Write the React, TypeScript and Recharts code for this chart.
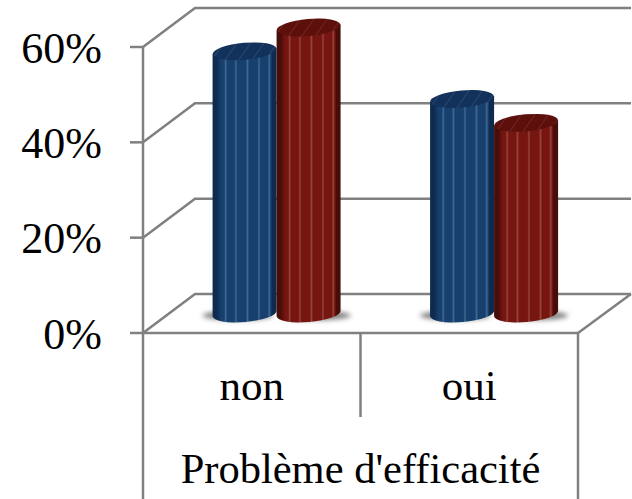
import { Bar, BarChart, CartesianGrid, XAxis, YAxis } from 'recharts';

const categories = ['non', 'oui'];
const blueValues = [55, 45];
const redValues = [60, 40];
const yTicks = [0, 20, 40, 60];
const axisTitle = "Problème d'efficacité";

const data = categories.map((name, i) => ({ name, blue: blueValues[i], red: redValues[i] }));

const lineColor = '#808080';
const lineWidth = 2.5;
const serif = '"Liberation Serif", serif';
const plot = { left: 143, right: 578, top: 47, bottom: 333 };
// depth of the fake 3D floor
const depthX = 52;
const depthY = 39;
const tilt = 5;

// vertical ribbing of the cylinder side: dark edges, thin lighter stripes
const ribs: [number, number][] = [
    [0.18, 0.23],
    [0.34, 0.39],
    [0.52, 0.57],
    [0.7, 0.75],
    [0.86, 0.91],
];

function stops(edge: string, base: string, light: string) {
    const out: [number, string][] = [
        [0, edge],
        [0.06, edge],
        [0.14, base],
    ];
    ribs.forEach(([a, b]) => {
        out.push([a, base], [(a + b) / 2, light], [b, base]);
    });
    out.push([0.93, edge], [1, edge]);
    return out.map(([o, c], i) => <stop key={i} offset={o} stopColor={c} />);
}

function GridLine({ x1, x2, y1 }: any) {
    const isFloor = y1 === plot.bottom;
    return (
        <g stroke={lineColor} strokeWidth={lineWidth} fill="none">
            <polyline points={`${x1},${y1} ${x1 + depthX},${y1 - depthY} ${x2 + depthX + 1},${y1 - depthY}`} />
            {isFloor && <line x1={x2} y1={y1} x2={x2 + depthX + 1} y2={y1 - depthY} />}
        </g>
    );
}

function Cylinder({ x, y, width, height, name }: any) {
    const rx = width / 2;
    const ry = 8.5;
    const cx = x + rx + depthX / 2 - 1;
    const top = y - depthY / 2;
    const bottom = top + height;
    const dy = rx * Math.sin((tilt * Math.PI) / 180);
    const isBlue = name === 'blue';
    const cap = isBlue ? '#12325c' : '#5c0f0b';
    const body =
        `M${cx - rx},${top + dy} L${cx - rx},${bottom + dy} ` +
        `A${rx},${ry} ${-tilt} 0 0 ${cx + rx},${bottom - dy} L${cx + rx},${top - dy} Z`;
    return (
        <g>
            <ellipse
                cx={cx + (isBlue ? -7 : 7)}
                cy={bottom + 2}
                rx={rx + 3}
                ry={4.5}
                fill="#7a7a7a"
                filter="url(#soft)"
            />
            <path d={body} fill={isBlue ? 'url(#blueSide)' : 'url(#redSide)'} />
            <g transform={`rotate(${-tilt} ${cx} ${top})`}>
                <ellipse cx={cx} cy={top} rx={rx} ry={ry} fill={cap} />
                <ellipse cx={cx} cy={top} rx={rx} ry={ry} fill="url(#hatch)" />
            </g>
        </g>
    );
}

function CategoryTick({ x, index, payload }: any) {
    const bandWidth = (plot.right - plot.left) / categories.length;
    const edge = plot.left + bandWidth * (index + 1);
    return (
        <g>
            {index === 0 && (
                <line x1={plot.left} y1={plot.bottom} x2={plot.left} y2={499} stroke={lineColor} strokeWidth={lineWidth} />
            )}
            <line
                x1={edge}
                y1={plot.bottom}
                x2={edge}
                y2={index === categories.length - 1 ? 499 : 417}
                stroke={lineColor}
                strokeWidth={lineWidth}
            />
            <text x={x} y={400} textAnchor="middle" fontFamily={serif} fontSize={43} fill="#000">
                {payload.value}
            </text>
        </g>
    );
}

export default function App() {
    return (
        <div style={{ position: 'absolute', left: 0, top: 0 }}>
            <BarChart
                width={632}
                height={499}
                data={data}
                margin={{ top: plot.top, right: 632 - plot.right, left: 0, bottom: 0 }}
                barCategoryGap="20.5%"
                barGap={0}
            >
                <defs>
                    <linearGradient id="blueSide" x1="0" y1="0" x2="1" y2="0">
                        {stops('#0e2a4e', '#17406f', '#3f6892')}
                    </linearGradient>
                    <linearGradient id="redSide" x1="0" y1="0" x2="1" y2="0">
                        {stops('#470d09', '#771510', '#94443e')}
                    </linearGradient>
                    <pattern id="hatch" width="11" height="11" patternUnits="userSpaceOnUse" patternTransform="rotate(40)">
                        <line x1="0" y1="0" x2="0" y2="11" stroke="#ffffff" strokeOpacity={0.13} strokeWidth={1.5} />
                    </pattern>
                    <filter id="soft" x="-20%" y="-80%" width="140%" height="260%">
                        <feGaussianBlur stdDeviation="2.5" />
                    </filter>
                </defs>
                <CartesianGrid horizontal={GridLine as any} vertical={false} />
                <XAxis
                    dataKey="name"
                    height={499 - plot.bottom}
                    axisLine={{ stroke: lineColor, strokeWidth: lineWidth }}
                    tickLine={false}
                    tick={CategoryTick as any}
                    label={{
                        value: axisTitle,
                        position: 'insideBottom',
                        offset: 16,
                        fontFamily: serif,
                        fontSize: 42.5,
                        fill: '#000',
                    }}
                />
                <YAxis
                    width={plot.left}
                    domain={[0, 60]}
                    ticks={yTicks}
                    tickFormatter={(v: number) => `${v}%`}
                    axisLine={{ stroke: lineColor, strokeWidth: lineWidth }}
                    tickLine={{ stroke: lineColor, strokeWidth: lineWidth }}
                    tickSize={13}
                    tickMargin={28}
                    tick={{ fontFamily: serif, fontSize: 44, fill: '#000' }}
                />
                <Bar dataKey="blue" name="blue" isAnimationActive={false} shape={<Cylinder name="blue" />} />
                <Bar dataKey="red" name="red" isAnimationActive={false} shape={<Cylinder name="red" />} />
            </BarChart>
        </div>
    );
}
